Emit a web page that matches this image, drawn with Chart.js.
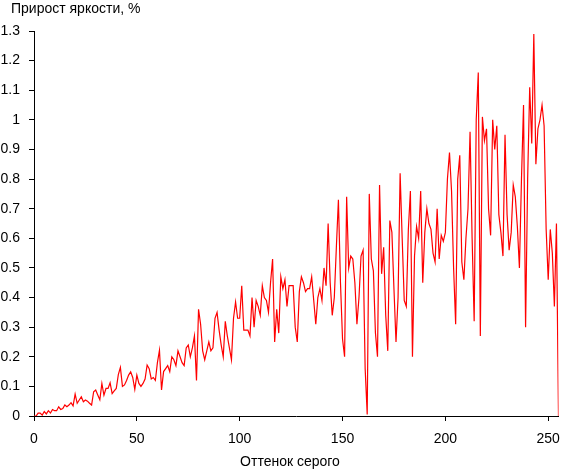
<!DOCTYPE html>
<html>
<head>
<meta charset="utf-8">
<script src="https://cdn.jsdelivr.net/npm/chart.js@4.4.1/dist/chart.umd.min.js"></script>
<style>
  html, body { margin: 0; padding: 0; background: #fff; }
  #wrap { width: 561px; height: 469px; }
</style>
</head>
<body>
<div id="wrap"><canvas id="gainChart" width="561" height="469"></canvas></div>
<script>
// прирост яркости (%) для каждого оттенка серого 0..255
const brightness = [
  0, 0, 0.01, 0.01, 0.003, 0.015, 0.007, 0.018, 0.01, 0.022,
  0.018, 0.018, 0.031, 0.022, 0.025, 0.037, 0.031, 0.037, 0.045, 0.034,
  0.074, 0.043, 0.054, 0.065, 0.048, 0.054, 0.05, 0.043, 0.037, 0.082,
  0.088, 0.071, 0.055, 0.11, 0.07, 0.093, 0.093, 0.112, 0.076, 0.085,
  0.093, 0.14, 0.164, 0.1, 0.105, 0.12, 0.138, 0.149, 0.13, 0.09,
  0.138, 0.11, 0.1, 0.11, 0.125, 0.172, 0.16, 0.125, 0.13, 0.12,
  0.18, 0.222, 0.088, 0.15, 0.16, 0.17, 0.15, 0.2, 0.19, 0.17,
  0.22, 0.2, 0.18, 0.17, 0.23, 0.24, 0.2, 0.23, 0.27, 0.12,
  0.36, 0.31, 0.22, 0.19, 0.22, 0.25, 0.22, 0.23, 0.33, 0.35,
  0.29, 0.24, 0.2, 0.32, 0.27, 0.23, 0.19, 0.33, 0.385, 0.33,
  0.33, 0.44, 0.29, 0.29, 0.29, 0.27, 0.4, 0.3, 0.39, 0.37,
  0.34, 0.44, 0.4, 0.39, 0.35, 0.45, 0.53, 0.25, 0.36, 0.28,
  0.47, 0.43, 0.46, 0.37, 0.44, 0.44, 0.44, 0.3, 0.25, 0.42,
  0.47, 0.45, 0.42, 0.43, 0.43, 0.47, 0.39, 0.31, 0.4, 0.43,
  0.39, 0.5, 0.44, 0.65, 0.45, 0.34, 0.4, 0.57, 0.73, 0.45,
  0.26, 0.2, 0.74, 0.5, 0.54, 0.53, 0.45, 0.31, 0.4, 0.54,
  0.56, 0.16, 0.005, 0.75, 0.53, 0.49, 0.28, 0.2, 0.78, 0.48,
  0.57, 0.34, 0.22, 0.66, 0.62, 0.43, 0.25, 0.4, 0.82, 0.6,
  0.39, 0.37, 0.63, 0.76, 0.2, 0.54, 0.64, 0.6, 0.76, 0.45,
  0.62, 0.7, 0.65, 0.63, 0.55, 0.52, 0.7, 0.53, 0.61, 0.59,
  0.62, 0.8, 0.89, 0.76, 0.5, 0.31, 0.8, 0.88, 0.52, 0.46,
  0.6, 0.7, 0.96, 0.6, 0.32, 1.0, 1.16, 0.27, 1.01, 0.93,
  0.97, 0.7, 0.61, 1.0, 0.9, 0.98, 0.68, 0.62, 0.54, 0.95,
  0.68, 0.56, 0.62, 0.78, 0.74, 0.64, 0.5, 0.8, 1.05, 0.3,
  0.8, 1.11, 0.92, 1.29, 0.85, 0.97, 1.0, 1.05, 0.98, 0.63,
  0.46, 0.63, 0.55, 0.37, 0.65, 0
];
const greyLevels = brightness.map((v, i) => i);

const xTicks = [0, 50, 100, 150, 200, 250];
const yTicks = [0, 0.1, 0.2, 0.3, 0.4, 0.5, 0.6, 0.7, 0.8, 0.9, 1, 1.1, 1.2, 1.3];

const yTitle = 'Прирост яркости, %';
const xTitle = 'Оттенок серого';

const FONT = '"Liberation Sans", Arial, sans-serif';

const axisTitles = {
  id: 'axisTitles',
  afterDraw(chart) {
    const c = chart.ctx;
    c.save();
    c.fillStyle = '#000';
    c.font = '14px ' + FONT;
    c.textBaseline = 'alphabetic';
    c.textAlign = 'left';
    c.fillText(yTitle, 11, 13);
    c.textAlign = 'center';
    c.fillText(xTitle, 290, 466);
    c.restore();
  }
};

const ctx = document.getElementById('gainChart').getContext('2d');
new Chart(ctx, {
  type: 'line',
  data: {
    labels: greyLevels,
    datasets: [{
      data: brightness,
      borderColor: '#ff0000',
      borderWidth: 1.2,
      pointRadius: 0,
      tension: 0,
      fill: false
    }]
  },
  options: {
    responsive: false,
    animation: false,
    events: [],
    layout: { padding: { top: 31, left: 0, right: 2.5, bottom: 0 } },
    plugins: {
      legend: { display: false },
      tooltip: { enabled: false },
      title: { display: false }
    },
    scales: {
      x: {
        type: 'linear',
        min: 0,
        max: 255,
        afterFit(scale) {
          scale.height = 53;
          scale.paddingLeft = 0;
          scale.paddingRight = 0;
        },
        afterBuildTicks(scale) { scale.ticks = xTicks.map(v => ({ value: v })); },
        border: { display: true, color: '#000', width: 1 },
        grid: { drawOnChartArea: false, drawTicks: true, tickLength: 5, color: '#000' },
        ticks: {
          color: '#000',
          padding: 10,
          maxRotation: 0,
          font: { family: FONT, size: 14 },
          callback: v => String(v)
        }
      },
      y: {
        min: 0,
        max: 1.3,
        afterFit(scale) {
          scale.width = 34;
          scale.paddingTop = 0;
          scale.paddingBottom = 0;
        },
        afterBuildTicks(scale) { scale.ticks = yTicks.map(v => ({ value: v })); },
        border: { display: true, color: '#000', width: 1 },
        grid: { drawOnChartArea: false, drawTicks: true, tickLength: 5, color: '#000' },
        ticks: {
          color: '#000',
          padding: 9,
          font: { family: FONT, size: 14 },
          callback: v => String(Math.round(v * 10) / 10)
        }
      }
    }
  },
  plugins: [axisTitles]
});
</script>
</body>
</html>
